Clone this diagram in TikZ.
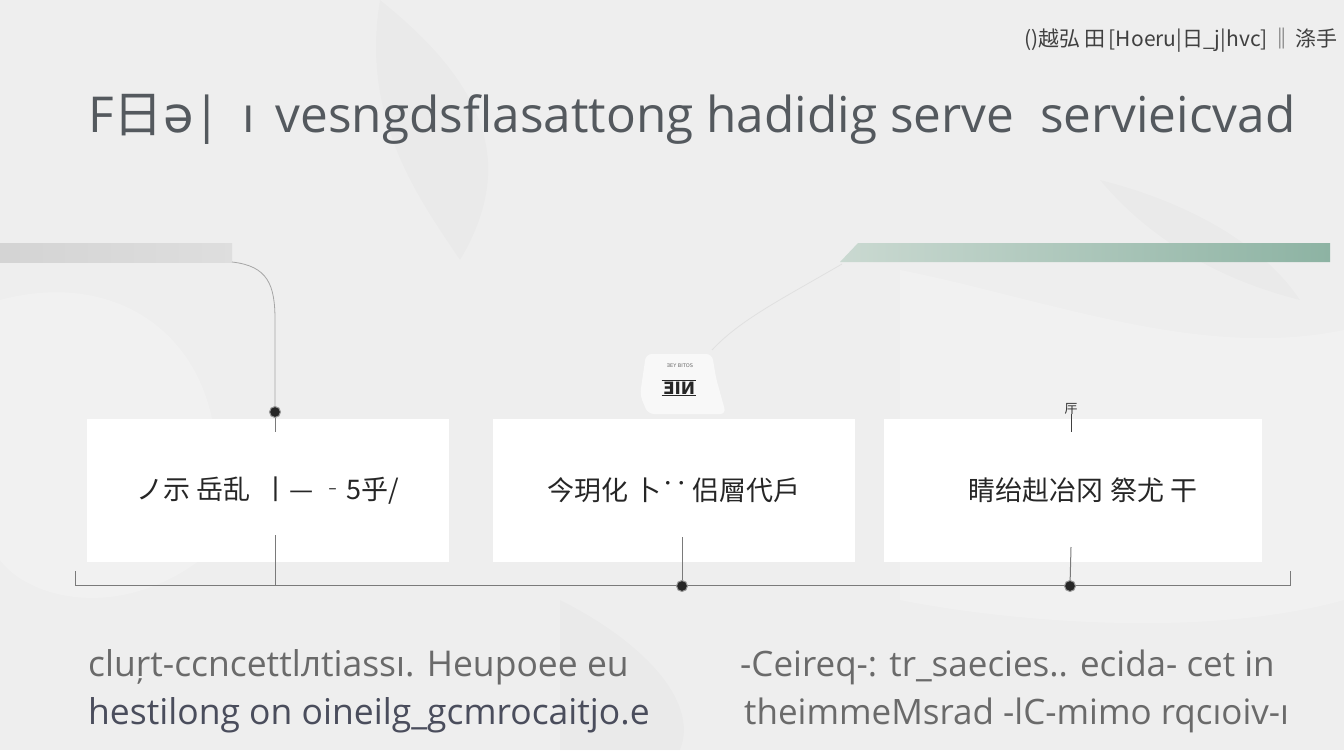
\documentclass[tikz,border=0pt]{standalone}
\usepackage{fontspec}
\setmainfont{Open Sans}
\newfontfamily\cjk{Noto Sans CJK SC}
\newfontfamily\dvs{DejaVu Sans}
\definecolor{bgc}{HTML}{EEEEEE}
\definecolor{titlec}{HTML}{54595E}
\definecolor{linec}{HTML}{7A7A7A}
\definecolor{txtone}{HTML}{6A6A6A}
\definecolor{txttwo}{HTML}{4A4D5C}
\definecolor{greenL}{HTML}{CAD9D1}
\definecolor{greenR}{HTML}{8DB3A3}
\tikzset{
  boxnode/.style={fill=white, minimum width=362bp, minimum height=143bp, inner sep=0pt, font=\cjk\fontsize{27bp}{30bp}\selectfont, text=black!85},
  dotnode/.style={circle, fill=black!85, draw=black!40, line width=1bp, minimum size=11bp, inner sep=0pt},
  conn/.style={draw=linec, line width=1bp},
  faint/.style={draw=black!35, line width=0.8bp},
  bodyone/.style={anchor=base west, text=txtone, font=\fontsize{35.5bp}{40bp}\selectfont, inner sep=0pt},
  bodytwo/.style={anchor=base west, text=txttwo, font=\fontsize{35.5bp}{40bp}\selectfont, inner sep=0pt}
}
\begin{document}
\begin{tikzpicture}[x=1bp,y=-1bp]
\useasboundingbox (0,0) rectangle (1344,750);
\fill[bgc] (0,0) rectangle (1344,750);
% faint marble background
\fill[white, opacity=0.2] (0,300) .. controls (150,260) and (260,380) .. (200,560) .. controls (120,620) and (30,600) .. (0,560) -- cycle;
\fill[black, opacity=0.015] (380,0) .. controls (480,80) and (520,160) .. (460,260) .. controls (420,200) and (360,120) .. (380,0);
\fill[white, opacity=0.2] (900,270) .. controls (1050,300) and (1200,360) .. (1344,330) -- (1344,600) .. controls (1200,640) and (1000,620) .. (900,600) -- cycle;
\fill[black, opacity=0.015] (560,600) .. controls (640,640) and (700,700) .. (680,750) -- (560,750) -- cycle;
\fill[black, opacity=0.015] (1100,180) .. controls (1180,200) and (1260,240) .. (1300,300) .. controls (1220,280) and (1150,240) .. (1100,180);
% header
\node[anchor=east, font=\cjk\fontsize{21bp}{24bp}\selectfont, text=black!75, inner sep=0pt] (hdr) at (1338,40) {()越弘\,田\,[Hoeru|日\_j|hvc]\,‖\,涤手};
% title
\node[anchor=base west, text=titlec, font=\fontsize{49.5bp}{58bp}\selectfont, inner sep=0pt] (title) at (88,132) {F{\cjk 日}{\dvs ə}|\, ı\, vesngdsflasattong hadidig serve\ \ servieicvad};
% bars
\shade[left color=black!17, right color=black!13] (0,243) rectangle (232,262);
\shade[left color=greenL, right color=greenR] (858,243) -- (1330,243) -- (1330,262) -- (840,262) -- cycle;
\coordinate (barL) at (232,262);
\coordinate (barG) at (842,264);
\coordinate (gEnd) at (712,350);
\draw[faint, draw=black!12] (barG) .. controls (780,300) and (740,320) .. (gEnd);
% boxes
\node[boxnode] (b1) at (268,490.5) {ノ示 岳乱\ \ 丨— ‐5乎/};
\node[boxnode] (b2) at (674,490.5) {今玥化 卜\raisebox{7bp}{‥}\,侣層代戶};
\node[boxnode, minimum width=378bp] (b3) at (1073,490.5) {\hspace*{20bp}睛绐赳冶冈 祭尤 干};
% baseline
\coordinate (bl) at (75,585);
\coordinate (br) at (1290,585);
\coordinate (blt) at (75,571);
\coordinate (brt) at (1290,571);
\draw[conn] (blt) -- (bl) -- (br) -- (brt);
% dots
\node[dotnode] (d1) at (275,412) {};
\node[dotnode] (d2) at (682,586) {};
\node[dotnode] (d3) at (1070,586) {};
% connectors
\coordinate (c1a) at (275,432);
\coordinate (c1b) at (275,535);
\coordinate (c1c) at (275,585);
\draw[faint] (barL) .. controls (268,266) and (275,285) .. (275,320) -- (d1);
\draw[conn] (d1) -- (c1a);
\draw[conn] (c1b) -- (c1c);
\coordinate (c2a) at (682,537);
\draw[conn] (c2a) -- (d2);
\coordinate (c3a) at (1071,547);
\draw[conn] (c3a) -- (d3);
\coordinate (c3t) at (1071,414);
\coordinate (c3b) at (1071,432);
\node[font=\cjk\fontsize{13bp}{14bp}\selectfont, inner sep=0pt, text=black!80] (t3) at (1071,409) {厈};
\draw[conn, draw=black!75] (c3t) -- (c3b);
% tag above box 2
\fill[white, opacity=0.6, rounded corners=6bp] (646,354) -- (712,354) -- (716,378) -- (726,414) -- (648,414) -- (640,395) -- cycle;
\node[font=\dvs\fontsize{5bp}{6bp}\selectfont, text=black!60, inner sep=0pt] (tagsmall) at (680,366) {ƎEY BITOS};
\node[font=\dvs\bfseries\fontsize{17bp}{18bp}\selectfont, text=black!85, inner sep=1bp] (tagbig) at (679,388) {ƎIИ};
\draw[black!85, line width=1.2bp] (tagbig.north west) -- (tagbig.north east);
\draw[black!85, line width=1.2bp] (tagbig.south west) -- (tagbig.south east);
% bottom texts
\node[bodyone] (l1) at (88,676) {cluŗt-ccncettlлtiassı. Heupoee eu};
\node[bodytwo] (l2) at (88,724) {hestilong on oineilg\_gcmrocaitjo.e};
\node[bodyone, font=\fontsize{35bp}{40bp}\selectfont] (r1) at (740,676) {-Ceireq-: tr\_saecies.. ecida- cet in};
\node[bodyone, font=\fontsize{35bp}{40bp}\selectfont] (r2) at (744,724) {theimmeMsrad -lC-mimo rqcıoiv-ı};
\end{tikzpicture}
\end{document}
